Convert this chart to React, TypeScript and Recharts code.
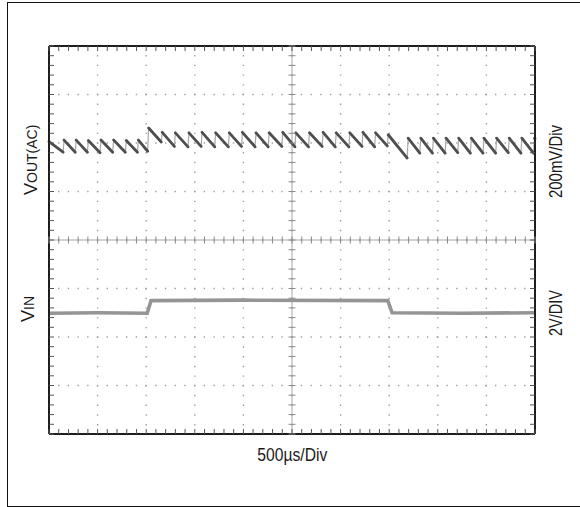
import React from "react";
import {
  CartesianGrid,
  ComposedChart,
  Customized,
  Line,
  ReferenceLine,
  Scatter,
  XAxis,
  YAxis,
} from "recharts";

// screen divisions: 10 across, 8 down (y measured up from the bottom)
const MAJOR_X = [0, 1, 2, 3, 4, 5, 6, 7, 8, 9, 10];
const MAJOR_Y = [0, 1, 2, 3, 4, 5, 6, 7, 8];
const MINOR_X = Array.from({ length: 51 }, (_, i) => i / 5);
const MINOR_Y = Array.from({ length: 41 }, (_, i) => i / 5);

// VOUT(AC) ripple, one row per tooth: [rise time, level before rise, level after rise]
const VOUT_START = 6.03;
const VOUT_END = 6.09;
const VOUT_TEETH: [number, number, number][] = [
  [0.29, 5.81, 6.06],
  [0.54, 5.81, 6.06],
  [0.79, 5.81, 6.05],
  [1.05, 5.8, 6.06],
  [1.31, 5.81, 6.06],
  [1.57, 5.81, 6.05],
  [1.82, 5.81, 6.06],
  [2.03, 5.83, 6.31],
  [2.31, 6.02, 6.22],
  [2.58, 5.93, 6.21],
  [2.86, 5.92, 6.21],
  [3.13, 5.93, 6.22],
  [3.41, 5.92, 6.21],
  [3.69, 5.92, 6.21],
  [3.96, 5.93, 6.22],
  [4.24, 5.92, 6.21],
  [4.51, 5.92, 6.21],
  [4.79, 5.93, 6.22],
  [5.06, 5.92, 6.21],
  [5.34, 5.92, 6.21],
  [5.62, 5.93, 6.22],
  [5.89, 5.92, 6.21],
  [6.17, 5.92, 6.21],
  [6.44, 5.93, 6.22],
  [6.7, 5.92, 6.21],
  [6.96, 5.94, 6.17],
  [7.37, 5.69, 6.1],
  [7.63, 5.79, 6.1],
  [7.89, 5.79, 6.1],
  [8.15, 5.79, 6.1],
  [8.41, 5.8, 6.1],
  [8.67, 5.79, 6.1],
  [8.93, 5.79, 6.1],
  [9.19, 5.79, 6.1],
  [9.45, 5.8, 6.1],
  [9.71, 5.79, 6.1],
  [9.97, 5.79, 6.1],
];

// VIN step: time / level pairs
const VIN_T = [0, 1.0, 2.02, 2.1, 4.0, 6.97, 7.06, 8.5, 10];
const VIN_V = [2.49, 2.5, 2.49, 2.75, 2.76, 2.75, 2.5, 2.49, 2.5];

const RISE = 0.02;

// slow decays drawn dark, fast edges drawn faint (as a scope shows them)
const decayData: { x: number; y: number | null }[] = [{ x: 0, y: VOUT_START }];
const riseData: { x: number; y: number | null }[] = [];
VOUT_TEETH.forEach(([t, lo, hi]) => {
  decayData.push({ x: t, y: lo }, { x: t + RISE / 2, y: null }, { x: t + RISE, y: hi });
  riseData.push({ x: t, y: lo }, { x: t + RISE, y: hi }, { x: t + RISE * 1.5, y: null });
});
decayData.push({ x: 10, y: VOUT_END });

const vinData = VIN_T.map((x, i) => ({ x, y: VIN_V[i] }));

// graticule tick marks: centre cross and the four edges
const crossH = MINOR_X.map((x) => ({ x, y: 4 }));
const crossV = MINOR_Y.map((y) => ({ x: 5, y }));
const edgeBottom = MINOR_X.map((x) => ({ x, y: 0 }));
const edgeTop = MINOR_X.map((x) => ({ x, y: 8 }));
const edgeLeft = MINOR_Y.map((y) => ({ x: 0, y }));
const edgeRight = MINOR_Y.map((y) => ({ x: 10, y }));

const FONT = "'Liberation Sans', Arial, sans-serif";
const BORDER = { stroke: "#1e1e1e", strokeWidth: 2 };
const TICK_C = "#8a8a8a";
const EDGE_C = "#555";

const HTick = (p: any) => (
  <line x1={p.cx} x2={p.cx} y1={p.cy - 3.5} y2={p.cy + 3.5} stroke={TICK_C} strokeWidth={1} />
);
const VTick = (p: any) => (
  <line x1={p.cx - 3.5} x2={p.cx + 3.5} y1={p.cy} y2={p.cy} stroke={TICK_C} strokeWidth={1} />
);
const edgeTick = (dx: number, dy: number) => (p: any) => (
  <line x1={p.cx} y1={p.cy} x2={p.cx + dx} y2={p.cy + dy} stroke={EDGE_C} strokeWidth={1} />
);

const Labels = () => (
  <g fontFamily={FONT} fill="#1a1a1a">
    <text transform="translate(37,195) rotate(-90)">
      <tspan fontSize={18}>V</tspan>
      <tspan fontSize={14}>OUT(AC)</tspan>
    </text>
    <text transform="translate(33.5,322) rotate(-90)">
      <tspan fontSize={18}>V</tspan>
      <tspan fontSize={14}>IN</tspan>
    </text>
    <text
      transform="translate(562,198) rotate(-90)"
      fontSize={17.5}
      textLength={73}
      lengthAdjust="spacingAndGlyphs"
    >
      200mV/Div
    </text>
    <text
      transform="translate(562,336) rotate(-90)"
      fontSize={17.5}
      textLength={46}
      lengthAdjust="spacingAndGlyphs"
    >
      2V/DIV
    </text>
    <text x={257.3} y={461} fontSize={17.5} textLength={70} lengthAdjust="spacingAndGlyphs">
      500µs/Div
    </text>
  </g>
);

const borderAxis = {
  type: "number" as const,
  mirror: true,
  tick: false,
  tickLine: false,
  axisLine: BORDER,
};

export default function App() {
  return (
    <div
      style={{
        position: "absolute",
        left: 0,
        top: 0,
        width: 580,
        height: 507,
        overflow: "hidden",
        background: "#fff",
      }}
    >
      <div
        style={{
          position: "absolute",
          left: 7,
          top: 2,
          width: 580,
          height: 503,
          borderLeft: "1.3px solid #111",
          borderTop: "1.3px solid #111",
          borderBottom: "1.3px solid #111",
        }}
      />
      <div style={{ position: "absolute", left: 0, top: 0 }}>
        <ComposedChart
          width={580}
          height={507}
          margin={{ top: 46, right: 45, bottom: 73, left: 49 }}
        >
          <XAxis dataKey="x" type="number" domain={[0, 10]} ticks={MAJOR_X} hide />
          <YAxis type="number" domain={[0, 8]} ticks={MAJOR_Y} hide />
          <CartesianGrid
            stroke="#a0a0a0"
            strokeWidth={1.4}
            strokeDasharray="1.4 8.31"
            strokeDashoffset={0.7}
          />
          <ReferenceLine x={5} stroke="#a6a6a6" strokeWidth={1} />
          <ReferenceLine y={4} stroke="#a6a6a6" strokeWidth={1} />
          <Scatter data={crossH} dataKey="y" shape={HTick} isAnimationActive={false} />
          <Scatter data={crossV} dataKey="y" shape={VTick} isAnimationActive={false} />
          <Scatter data={edgeBottom} dataKey="y" shape={edgeTick(0, -5)} isAnimationActive={false} />
          <Scatter data={edgeTop} dataKey="y" shape={edgeTick(0, 5)} isAnimationActive={false} />
          <Scatter data={edgeLeft} dataKey="y" shape={edgeTick(5, 0)} isAnimationActive={false} />
          <Scatter data={edgeRight} dataKey="y" shape={edgeTick(-5, 0)} isAnimationActive={false} />

          <XAxis xAxisId="bottom" orientation="bottom" domain={[0, 10]} {...borderAxis} />
          <XAxis xAxisId="top" orientation="top" domain={[0, 10]} {...borderAxis} />
          <YAxis yAxisId="left" orientation="left" domain={[0, 8]} {...borderAxis} />
          <YAxis yAxisId="right" orientation="right" domain={[0, 8]} {...borderAxis} />

          <Line
            data={vinData}
            dataKey="y"
            type="linear"
            stroke="#959595"
            strokeWidth={3.6}
            dot={false}
            isAnimationActive={false}
          />
          <Line
            data={riseData}
            dataKey="y"
            type="linear"
            stroke="#a8a8a8"
            strokeWidth={1.2}
            dot={false}
            connectNulls={false}
            isAnimationActive={false}
          />
          <Line
            data={decayData}
            dataKey="y"
            type="linear"
            stroke="#4e4e4e"
            strokeWidth={2.8}
            strokeLinecap="round"
            dot={false}
            connectNulls={false}
            isAnimationActive={false}
          />
          <Customized component={Labels} />
        </ComposedChart>
      </div>
    </div>
  );
}
